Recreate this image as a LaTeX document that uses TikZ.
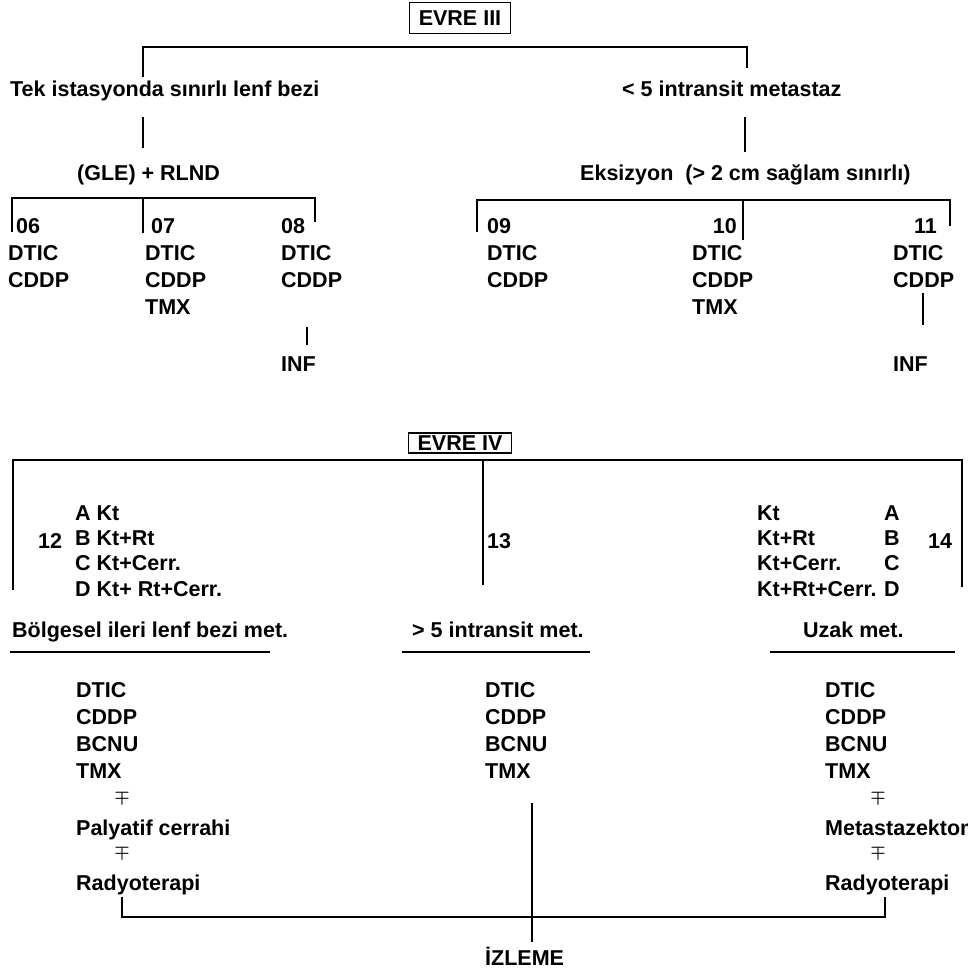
\documentclass[tikz,border=0pt]{standalone}
\usepackage{fontspec}
\setmainfont{Liberation Sans}
\usepackage{xcolor}
\usepackage{tikz}
\definecolor{ink}{HTML}{000000}
\definecolor{paper}{HTML}{FFFFFF}
\tikzset{
  lbl/.style={text=ink, font=\bfseries\fontsize{21.5}{27}\selectfont, inner sep=0pt, anchor=base west},
  listLbl/.style={lbl, align=left, anchor=north west},
  abcLbl/.style={listLbl, font=\bfseries\fontsize{21.5}{25.5}\selectfont},
  stageBox/.style={lbl, anchor=center, draw=ink, line width=1.3pt, inner xsep=9pt, inner ysep=0pt},
  pmLbl/.style={text=ink, font=\boldmath\fontsize{17}{17}\selectfont, inner sep=0pt},
  link/.style={draw=ink, line width=1.7pt},
}

\begin{document}
\begin{tikzpicture}[x=1pt, y=-1pt]
  \fill[paper] (0,0) rectangle (968,980);
  \useasboundingbox (0,0) rectangle (968,980);

  % EVRE III
  \node[stageBox, minimum height=31pt] (evre3) at (460,18) {EVRE III};
  \node[lbl] (tek)  at (10,96)  {Tek istasyonda sınırlı lenf bezi};
  \node[lbl] (intr) at (622,96) {< 5 intransit metastaz};
  \node[lbl] (gle)  at (77,180) {(GLE) + RLND};
  \node[lbl] (eks)  at (580,180) {Eksizyon\ \ (> 2 cm sağlam sınırlı)};

  \coordinate (tekUp)  at (143,77);
  \coordinate (intrUp) at (747,68);
  \draw[link] (tekUp) -- (tekUp |- 0,47) -- (intrUp |- 0,47) -- (intrUp);
  \draw[link] (143,117) -- (143,148);
  \draw[link] (745,117) -- (745,152);

  \node[lbl] (n06) at (16,233)  {06};
  \node[lbl] (n07) at (151,233) {07};
  \node[lbl] (n08) at (281,233) {08};
  \node[lbl] (n09) at (487,233) {09};
  \node[lbl, anchor=base east] (n10) at (737,233) {10};
  \node[lbl, anchor=base east] (n11) at (937,233) {11};

  \node[listLbl] (d06) at (8,245)   {DTIC\\CDDP};
  \node[listLbl] (d07) at (145,245) {DTIC\\CDDP\\TMX};
  \node[listLbl] (d08) at (281,245) {DTIC\\CDDP};
  \node[listLbl] (d09) at (487,245) {DTIC\\CDDP};
  \node[listLbl] (d10) at (692,245) {DTIC\\CDDP\\TMX};
  \node[listLbl] (d11) at (893,245) {DTIC\\CDDP};

  \node[lbl] (inf08) at (281,371) {INF};
  \node[lbl] (inf11) at (893,371) {INF};

  \draw[link] (12,232) -- (12,198) -- (315,198) -- (315,222);
  \draw[link] (143,198) -- (143,233);
  \draw[link] (477,232) -- (477,200) -- (950,200) -- (950,226);
  \draw[link] (743,200) -- (743,240);
  \draw[link] (307,327) -- (307,345);
  \draw[link] (923,293) -- (923,325);

  % EVRE IV
  \node[stageBox, minimum height=20pt] (evre4) at (460,443) {EVRE IV};
  \draw[link] (13,590) -- (13,460) -- (962,460) -- (962,587);
  \draw[link] (483,460) -- (483,585);

  \node[lbl] (n12) at (38,548) {12};
  \node[abcLbl] (opt12) at (75,505) {A Kt\\B Kt+Rt\\C Kt+Cerr.\\D Kt+ Rt+Cerr.};
  \node[lbl] (n13) at (487,548) {13};
  \node[abcLbl] (opt14) at (757,505) {Kt\\Kt+Rt\\Kt+Cerr.\\Kt+Rt+Cerr.};
  \node[abcLbl] (abc14) at (884,505) {A\\B\\C\\D};
  \node[lbl] (n14) at (928,548) {14};

  \node[lbl] (bolg) at (12,637)  {Bölgesel ileri lenf bezi met.};
  \node[lbl] (itm)  at (412,637) {> 5 intransit met.};
  \node[lbl] (uzak) at (803,637) {Uzak met.};
  \draw[link] (10,652) -- (270,652);
  \draw[link] (402,652) -- (590,652);
  \draw[link] (770,652) -- (955,652);

  \node[listLbl] (ilacL) at (76,682)  {DTIC\\CDDP\\BCNU\\TMX};
  \node[pmLbl]   (pm1)   at (122,797) {$\mp$};
  \node[lbl]     (pal)   at (76,835)  {Palyatif cerrahi};
  \node[pmLbl]   (pm2)   at (122,852) {$\mp$};
  \node[lbl]     (radL)  at (76,890)  {Radyoterapi};

  \node[listLbl] (ilacM) at (485,682) {DTIC\\CDDP\\BCNU\\TMX};

  \node[listLbl] (ilacR) at (825,682) {DTIC\\CDDP\\BCNU\\TMX};
  \node[pmLbl]   (pm3)   at (878,797) {$\mp$};
  \node[lbl]     (meta)  at (825,835) {Metastazektomi};
  \node[pmLbl]   (pm4)   at (878,852) {$\mp$};
  \node[lbl]     (radR)  at (825,890) {Radyoterapi};

  \node[lbl] (izle) at (485,965) {İZLEME};
  \draw[link] (122,897) -- (122,917) -- (885,917) -- (885,897);
  \draw[link] (532,803) -- (532,942);
\end{tikzpicture}
\end{document}
